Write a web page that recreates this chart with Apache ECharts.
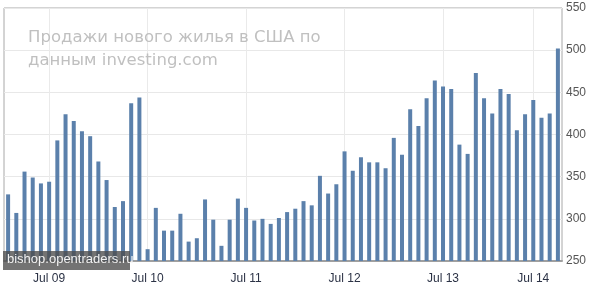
<!DOCTYPE html>
<html><head><meta charset="utf-8">
<script src="https://cdn.jsdelivr.net/npm/echarts@6/dist/echarts.min.js"></script>
<style>html,body{margin:0;padding:0;background:#fff}#c{width:591px;height:286px}</style>
</head><body><div id="c"></div>
<script>
// New home sales (thousands)
const sales = [329,307,356,349,342,344,393,424,416,404,398,368,
  346,314,321,437,444,264,313,286,286,306,273,277,323,299,268,299,324,313,
  298,300,294,301,308,312,321,316,351,330,341,380,357,373,367,367,360,396,
  376,430,410,443,464,457,454,388,377,473,443,425,454,448,405,424,441,420,425,502];
const categories = sales.map((v, i) => String(i));
const tickIndex = [5, 17, 29, 41, 53, 64];
const tickLabels = ['Jul 09', 'Jul 10', 'Jul 11', 'Jul 12', 'Jul 13', 'Jul 14'];
const yTicks = [250, 300, 350, 400, 450, 500, 550];
const titleText = 'Продажи нового жилья в США по\nданным investing.com';
const watermark = 'bishop.opentraders.ru';

const chart = echarts.init(document.getElementById('c'), null, {renderer: 'canvas'});
const isTick = (i) => tickIndex.indexOf(i) >= 0;
chart.setOption({
  animation: false,
  backgroundColor: '#fff',
  title: {
    text: titleText, left: 23, top: 21,
    textStyle: {fontFamily: 'DejaVu Sans', fontSize: 16.5, fontWeight: 'normal', color: '#c0c0c0', lineHeight: 23}
  },
  grid: {left: 4, top: 8, right: 29, bottom: 25, show: true, borderColor: '#a8a8a8', borderWidth: 1, backgroundColor: 'transparent'},
  xAxis: {
    type: 'category', data: categories, boundaryGap: true,
    axisLine: {lineStyle: {color: '#a0a0a0', width: 2}},
    axisTick: {show: false},
    axisLabel: {
      interval: (i) => isTick(i), margin: 12,
      formatter: (v, i) => tickLabels[tickIndex.indexOf(+v)] || '',
      fontFamily: 'Liberation Sans', fontSize: 12, color: '#2b3245'
    },
    splitLine: {show: true, interval: (i) => isTick(i), alignWithLabel: true, lineStyle: {color: '#eaeaea', width: 1}}
  },
  yAxis: {
    type: 'value', position: 'right', min: yTicks[0], max: yTicks[yTicks.length - 1], interval: 50,
    axisLine: {show: false}, axisTick: {show: false},
    axisLabel: {margin: 4, fontFamily: 'Liberation Sans', fontSize: 12, color: '#555'},
    splitLine: {lineStyle: {color: '#e8e8e8', width: 1}}
  },
  series: [{
    type: 'bar', data: sales, barWidth: 4,
    itemStyle: {color: '#5b80ab'}
  }],
  graphic: [
    {type: 'rect', z: 100, shape: {x: 3, y: 251, width: 127, height: 19}, style: {fill: 'rgba(75,75,75,0.78)'}},
    {type: 'text', z: 101, x: 7, y: 253, style: {text: watermark, fill: '#f2f2f2', fontSize: 13, fontFamily: 'Liberation Sans'}}
  ]
});
</script></body></html>
